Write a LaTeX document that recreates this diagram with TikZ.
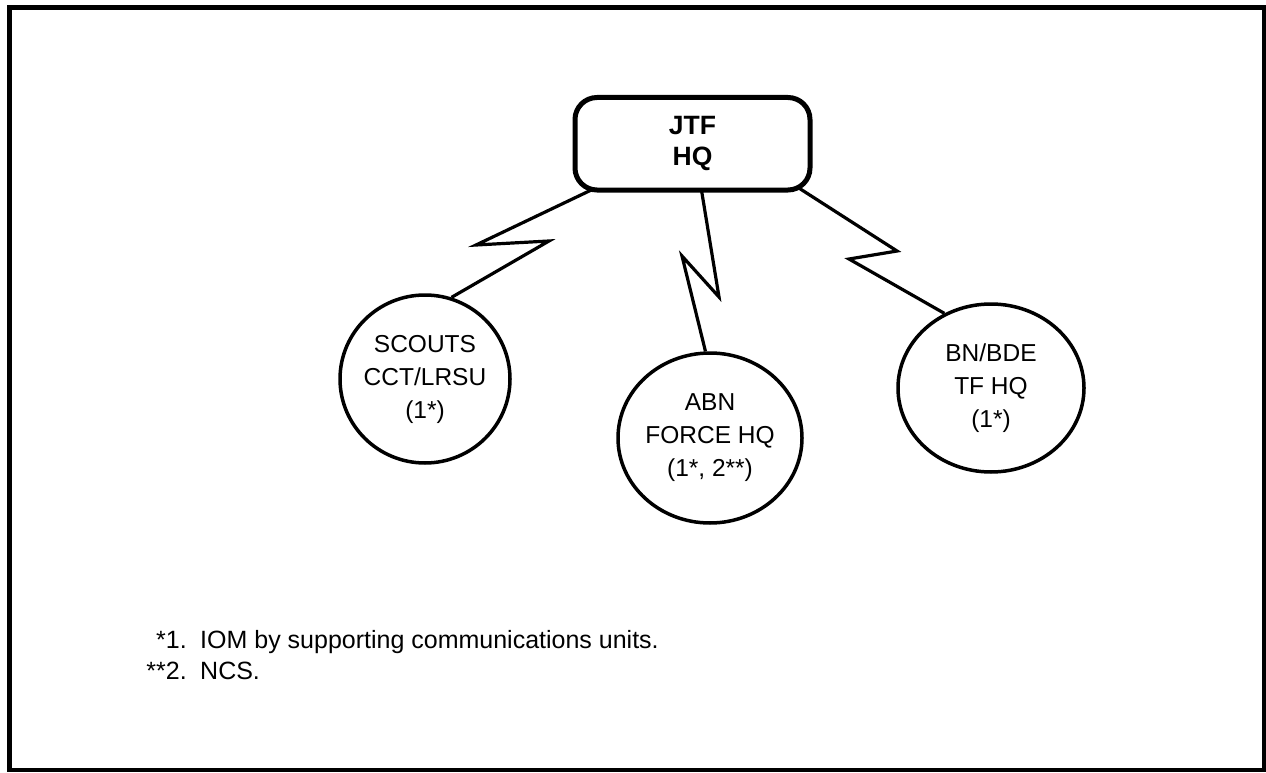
\documentclass[tikz,border=0pt]{standalone}
\usepackage{fontspec}
\setmainfont{Liberation Sans}
\usetikzlibrary{shapes.geometric,backgrounds}
\begin{document}
\begin{tikzpicture}[x=1pt,y=-1pt,
  outerframe/.style={line width=4.5pt},
  hqbox/.style={draw, fill=white, line width=5pt, rounded corners=22pt,
    minimum width=235pt, minimum height=92.5pt, inner sep=0pt,
    font=\fontsize{26.5}{31}\selectfont\bfseries, align=center},
  unit/.style={draw, fill=white, ellipse, line width=3.5pt, inner sep=-10pt,
    font=\fontsize{24.5}{33}\selectfont, align=center},
  link/.style={line width=3.2pt, line join=miter},
  note/.style={font=\fontsize{25}{31}\selectfont, inner sep=0pt}
]
\useasboundingbox (0,0) rectangle (1266,773);
\draw[outerframe] (9.5,7.5) rectangle (1264,770);

\node[hqbox] (jtf) at (692.5,143.75) {JTF\\HQ};

\node[unit, minimum width=170pt, minimum height=168pt] (scouts) at (425,379) {SCOUTS\\CCT/LRSU\\(1*)};
\node[unit, minimum width=184pt, minimum height=170pt] (abn) at (710,438) {ABN\\FORCE HQ\\(1*, 2**)};
\node[unit, minimum width=186pt, minimum height=168pt] (bn) at (991,388) {BN/BDE\\TF HQ\\(1*)};

\begin{scope}[on background layer]
\draw[link] ([xshift=23.5pt,yshift=4.75pt]jtf.south west) -- (476,245) -- (549,241) -- (scouts.72);
\draw[link] ([xshift=8.8pt,yshift=3.5pt]jtf.south) -- (719,297) -- (682,256) -- (abn.93);
\draw[link] ([xshift=-14pt,yshift=4.7pt]jtf.south east) -- (897,251) -- (849,259) -- (bn.122);
\end{scope}

\node[note, anchor=base east] (n1) at (187,648) {*1.};
\node[note, anchor=base west] (t1) at (200,648) {IOM by supporting communications units.};
\node[note, anchor=base east] (n2) at (187,679) {**2.};
\node[note, anchor=base west] (t2) at (200,679) {NCS.};
\end{tikzpicture}
\end{document}
